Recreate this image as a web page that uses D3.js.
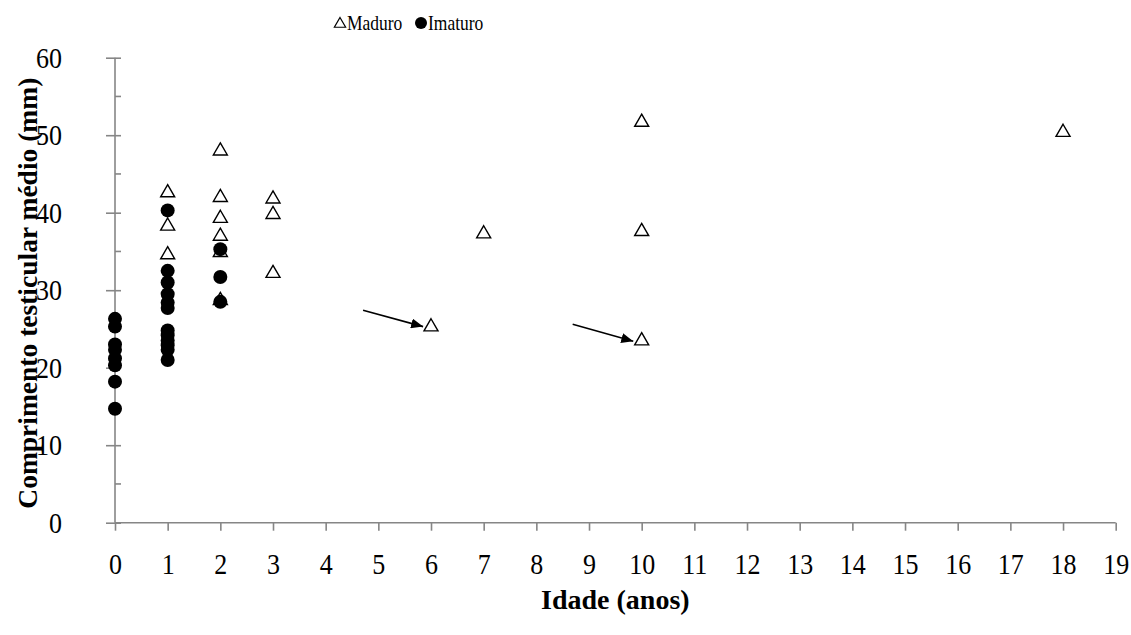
<!DOCTYPE html>
<html>
<head>
<meta charset="utf-8">
<script src="https://cdn.jsdelivr.net/npm/d3@7"></script>
<style>
  body { margin: 0; background: #fff; }
  text { font-family: "Liberation Serif", "Times New Roman", serif; fill: #000; }
</style>
</head>
<body>
<div id="chart"></div>
<script>
'use strict';

// Maduro (triangles) : idade (anos) / comprimento (mm)
var maduroIdade = [1, 1, 1, 2, 2, 2, 2, 2, 2, 3, 3, 3, 6, 7, 10, 10, 10, 18];
var maduroComp  = [42.7, 38.4, 34.7, 48.1, 42.1, 39.4, 37.1, 35.0, 28.8, 41.9, 39.9, 32.3, 25.4, 37.4, 51.8, 37.7, 23.6, 50.5];

// Imaturo (circles)
var imaturoIdade = [0, 0, 0, 0, 0, 0, 0, 0,
                    1, 1, 1, 1, 1, 1, 1, 1, 1, 1, 1, 1,
                    2, 2, 2];
var imaturoComp  = [26.3, 25.3, 23.0, 22.3, 21.2, 20.3, 18.2, 14.7,
                    40.3, 32.5, 31.0, 29.5, 28.4, 27.7, 24.8, 24.2, 23.5, 22.9, 22.3, 21.0,
                    35.3, 31.7, 28.5];

// arrows pointing at two mature points (start, tip) in data units
var arrowStart = [[4.71, 27.4], [8.69, 25.6]];
var arrowTip   = [[5.85, 25.3], [9.84, 23.4]];

var xTicks = d3.range(0, 20);
var yTicks = [0, 10, 20, 30, 40, 50, 60];
var yMinor = [5, 15, 25, 35, 45, 55];

var width = 1131, height = 635;
var margin = { left: 115, top: 57.7, right: 15.3, bottom: 112.3 };
var innerW = width - margin.left - margin.right;
var innerH = height - margin.top - margin.bottom;
var axisColor = '#868686';
var stretch = 1.15; // the source text is a bit taller than wide

var svg = d3.select('#chart').append('svg')
  .attr('width', width)
  .attr('height', height);

svg.append('defs').append('marker')
  .attr('id', 'head')
  .attr('viewBox', '0 0 12 10')
  .attr('refX', 12).attr('refY', 5)
  .attr('markerWidth', 12).attr('markerHeight', 10)
  .attr('markerUnits', 'userSpaceOnUse')
  .attr('orient', 'auto')
  .append('path')
  .attr('d', 'M0,0 L12,5 L0,10 Z')
  .attr('fill', '#000');

var chart = svg.append('g')
  .attr('transform', 'translate(' + margin.left + ',' + margin.top + ')');

var x = d3.scaleLinear().domain([0, 19]).range([0, innerW]);
var y = d3.scaleLinear().domain([0, 60]).range([innerH, 0]);

// y axis: major ticks cross the line, minor ticks inside
var yAxis = d3.axisLeft(y).tickValues(yTicks).tickSize(9).tickPadding(44).tickFormat(d3.format('d'));
var gy = chart.append('g').attr('class', 'yAxis').call(yAxis);
gy.select('.domain').remove();
gy.selectAll('.tick line').attr('x2', 6).attr('x1', -9);
gy.selectAll('text')
  .style('font-size', '26px')
  .attr('transform', 'scale(1,' + stretch + ')');

chart.append('g').selectAll('line.minor')
  .data(yMinor)
  .enter().append('line')
  .attr('class', 'minor')
  .attr('x1', 0).attr('x2', 6)
  .attr('y1', function(d) { return y(d); })
  .attr('y2', function(d) { return y(d); });

// x axis
var xAxis = d3.axisBottom(x).tickValues(xTicks).tickSize(8).tickFormat(d3.format('d'));
var gx = chart.append('g').attr('class', 'xAxis')
  .attr('transform', 'translate(0,' + innerH + ')')
  .call(xAxis);
gx.select('.domain').remove();
gx.selectAll('text')
  .style('font-size', '26px')
  .attr('dy', 0)
  .attr('y', 51 / stretch)
  .attr('transform', 'scale(1,' + stretch + ')');

chart.append('line')
  .attr('x1', 0).attr('x2', 0).attr('y1', 0).attr('y2', innerH);
chart.append('line')
  .attr('x1', 0).attr('x2', innerW).attr('y1', innerH).attr('y2', innerH);

chart.selectAll('line')
  .attr('stroke', axisColor)
  .attr('stroke-width', 1.6);

// maduro triangles
var tri = d3.symbol().type(d3.symbolTriangle).size(85);
chart.append('g').selectAll('path.maduro')
  .data(maduroIdade.map(function(d, i) { return [d, maduroComp[i]]; }))
  .enter().append('path')
  .attr('class', 'maduro')
  .attr('d', tri)
  .attr('transform', function(d) { return 'translate(' + x(d[0]) + ',' + (y(d[1]) + 1) + ')'; })
  .attr('fill', '#fff')
  .attr('stroke', '#000')
  .attr('stroke-width', 1.4);

// imaturo circles
chart.append('g').selectAll('circle.imaturo')
  .data(imaturoIdade.map(function(d, i) { return [d, imaturoComp[i]]; }))
  .enter().append('circle')
  .attr('class', 'imaturo')
  .attr('cx', function(d) { return x(d[0]); })
  .attr('cy', function(d) { return y(d[1]); })
  .attr('r', 7)
  .attr('fill', '#000');

// arrows
chart.append('g').selectAll('line.arrow')
  .data(arrowStart.map(function(d, i) { return [d, arrowTip[i]]; }))
  .enter().append('line')
  .attr('class', 'arrow')
  .attr('x1', function(d) { return x(d[0][0]); })
  .attr('y1', function(d) { return y(d[0][1]); })
  .attr('x2', function(d) { return x(d[1][0]); })
  .attr('y2', function(d) { return y(d[1][1]); })
  .attr('stroke', '#000')
  .attr('stroke-width', 1.6)
  .attr('marker-end', 'url(#head)');

// axis titles
svg.append('text')
  .attr('x', margin.left + innerW / 2)
  .attr('y', 609)
  .attr('text-anchor', 'middle')
  .style('font-size', '28px')
  .style('font-weight', 'bold')
  .text('Idade (anos)');

svg.append('text')
  .attr('transform', 'translate(37,' + (margin.top + innerH / 2 + 3) + ') rotate(-90)')
  .attr('text-anchor', 'middle')
  .style('font-size', '27.5px')
  .style('font-weight', 'bold')
  .text('Comprimento testicular médio (mm)');

// legend
var legend = svg.append('g').attr('transform', 'translate(340,23)');
legend.append('path')
  .attr('d', d3.symbol().type(d3.symbolTriangle).size(55))
  .attr('transform', 'translate(0,1)')
  .attr('fill', '#fff').attr('stroke', '#000').attr('stroke-width', 1.2);
legend.append('text')
  .attr('transform', 'translate(7,7) scale(1,1.2)')
  .style('font-size', '17.5px')
  .text('Maduro');
legend.append('circle')
  .attr('cx', 81).attr('cy', 0).attr('r', 6)
  .attr('fill', '#000');
legend.append('text')
  .attr('transform', 'translate(88,7) scale(1,1.2)')
  .style('font-size', '17.5px')
  .text('Imaturo');
</script>
</body>
</html>
